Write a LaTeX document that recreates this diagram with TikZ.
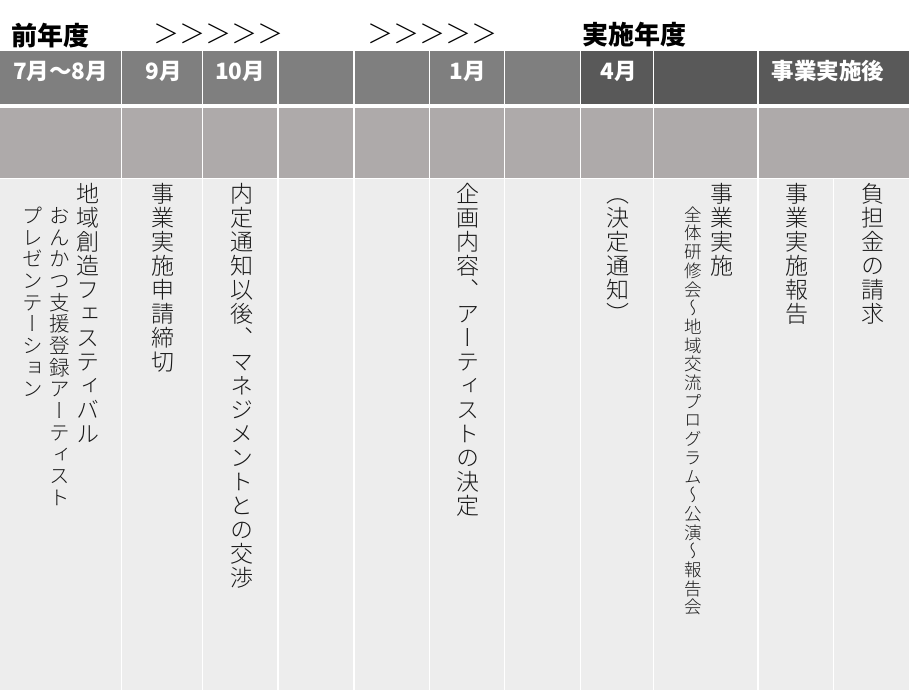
\documentclass[tikz,border=0pt]{standalone}
\usepackage{fontspec}
\usepackage{xcolor}
\newfontfamily\jp{Noto Sans CJK JP}
\IfFontExistsTF{Noto Sans CJK JP Light}{%
  \newfontfamily\jpv{Noto Sans CJK JP Light}[RawFeature=+vert]%
  \newfontfamily\jpl{Noto Sans CJK JP Light}%
}{%
  \newfontfamily\jpv{Noto Sans CJK JP}[RawFeature=+vert]%
  \newfontfamily\jpl{Noto Sans CJK JP}%
}
\definecolor{hdr}{HTML}{7F7F7F}
\definecolor{hdrdark}{HTML}{595959}
\definecolor{rowtwo}{HTML}{AEAAAA}
\definecolor{bodygray}{HTML}{EDEDED}
\definecolor{inkgray}{HTML}{1A1A1A}
\newdimen\vtp
\def\vtend{\vtend}
\def\vtA#1{\ifx\vtend#1\else\hbox to\vtp{\vrule height\dimexpr .38em+.5\vtp\relax depth\dimexpr .5\vtp-.38em\relax width0pt\hss#1\hss}\expandafter\vtA\fi}
\newcommand\vt[2]{\vtp=#1\relax\vbox{\offinterlineskip\vtA#2\vtend}}
\tikzset{
  vtext/.style={inner sep=0pt, anchor=north, text=inkgray},
  vbig/.style={vtext, font=\jpv\fontsize{23}{24}\selectfont},
  vmid/.style={vtext, font=\jpv\fontsize{20.5}{21.7}\selectfont},
  vsmall/.style={vtext, font=\jpv\fontsize{17.5}{18.7}\selectfont},
  hlabel/.style={inner sep=0pt, anchor=base, text=white, font=\jp\bfseries\fontsize{22.5}{26}\selectfont},
  titletext/.style={inner sep=0pt, anchor=base west, text=black, font=\jp\bfseries\fontsize{26}{30}\selectfont},
  chevrons/.style={inner sep=0pt, anchor=base west, text=black, font=\jpl\fontsize{26}{30}\selectfont},
  sepline/.style={white, line width=1.3pt},
}
\begin{document}
\begin{tikzpicture}[x=1pt, y=-1pt]
\useasboundingbox (0,0) rectangle (909,690);
\fill[white] (0,0) rectangle (909,690);
% header row
\fill[hdr] (0,51.5) rectangle (580.3,104);
\fill[hdrdark] (580.3,51.5) rectangle (909,104);
% second row
\fill[rowtwo] (0,108.5) rectangle (909,177.5);
% body
\fill[bodygray] (0,179) rectangle (909,690);
% separators
\foreach \x in {121.5,202.5,278,354,429.7,504.7,580.3,653.3,758}{
  \draw[sepline] (\x,51.5) -- (\x,177.5);
}
\foreach \x in {121.5,202.5,278,354,429.7,504.7,580.3,653.3,758,833.3}{
  \draw[sepline] (\x,179) -- (\x,690);
}
% title row
\node[titletext] (t1) at (11,46) {前年度};
\node[chevrons] (a1) at (153,44) {＞＞＞＞＞};
\node[chevrons] (a2) at (367,44) {＞＞＞＞＞};
\node[titletext] (t2) at (582,45) {実施年度};
% header labels
\node[hlabel] (h1) at (60.5,80) {7月～8月};
\node[hlabel] (h2) at (164,80) {9月};
\node[hlabel] (h3) at (240,80) {10月};
\node[hlabel] (h6) at (468,80) {1月};
\node[hlabel] (h8) at (619,80) {4月};
\node[hlabel] (h10) at (828,80) {事業実施後};
% body texts
\node[vbig] (b1a) at (88,182) {\vt{24pt}{地域創造フェスティバル}};
\node[vmid] (b1b) at (60,204.5) {\vt{21.7pt}{おんかつ支援登録アーティスト}};
\node[vmid] (b1c) at (33,204.5) {\vt{21.7pt}{プレゼンテーション}};
\node[vbig] (b2) at (163,182) {\vt{24pt}{事業実施申請締切}};
\node[vbig] (b3) at (242,182) {\vt{24pt}{内定通知以後、マネジメントとの交渉}};
\node[vbig] (b6) at (468,182) {\vt{24pt}{企画内容、アーティストの決定}};
\node[vbig] (b8) at (618,182) {\vt{24pt}{（決定通知）}};
\node[vbig] (b9a) at (722,182) {\vt{24pt}{事業実施}};
\node[vsmall] (b9b) at (693,205) {\vt{18.7pt}{全体研修会～地域交流プログラム～公演～報告会}};
\node[vbig] (b10) at (797,182) {\vt{24pt}{事業実施報告}};
\node[vbig] (b11) at (873,182) {\vt{24pt}{負担金の請求}};
\end{tikzpicture}
\end{document}
